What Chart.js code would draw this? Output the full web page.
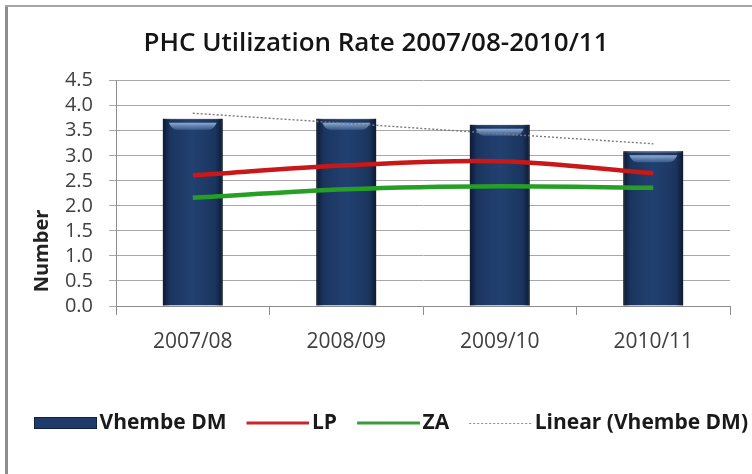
<!DOCTYPE html>
<html><head><meta charset="utf-8">
<style>html,body{margin:0;padding:0;background:#fff;} canvas{display:block;}</style>
<script src="https://cdn.jsdelivr.net/npm/chart.js@4.4.1/dist/chart.umd.min.js"></script>
</head><body>
<canvas id="c" width="752" height="474" style="width:752px;height:474px"></canvas>
<script>
const categories = ['2007/08', '2008/09', '2009/10', '2010/11'];
const vhembeDM = [3.74, 3.74, 3.62, 3.09];
const lp = [2.61, 2.81, 2.89, 2.65];
const za = [2.16, 2.33, 2.39, 2.36];
const linearVhembe = [3.85, 3.65, 3.44, 3.24];
const yTicks = [0, 0.5, 1, 1.5, 2, 2.5, 3, 3.5, 4, 4.5];
const seriesNames = ['Vhembe DM', 'LP', 'ZA', 'Linear (Vhembe DM)'];
const chartTitle = 'PHC Utilization Rate 2007/08-2010/11';
const yAxisTitle = 'Number';

const FONT = "'Open Sans', 'DejaVu Sans', sans-serif";
const NAVY = '#1e3b69';
const RED = '#c81818';
const GREEN = '#25a025';
const GRID = '#a8a8a8';

function makeSample(kind) {
  const c = document.createElement('canvas');
  c.width = 76; c.height = 14;
  const g = c.getContext('2d');
  const x0 = 13, x1 = 76, cy = 7;
  if (kind === 'bar') {
    g.fillStyle = '#0f2244';
    g.fillRect(x0, 1, x1 - x0, 12);
    g.fillStyle = NAVY;
    g.fillRect(x0 + 1, 2, x1 - x0 - 2, 10);
  } else if (kind === 'dash') {
    g.strokeStyle = '#8a8a8a'; g.lineWidth = 1;
    g.setLineDash([2, 2]);
    g.beginPath(); g.moveTo(x0, cy + 0.5); g.lineTo(x1, cy + 0.5); g.stroke();
  } else {
    g.strokeStyle = kind; g.lineWidth = 3;
    g.beginPath(); g.moveTo(x0, cy); g.lineTo(x1, cy); g.stroke();
  }
  return c;
}
const samples = [makeSample('bar'), makeSample('#c8262c'), makeSample('#3a9d3a'), makeSample('dash')];

const framePlugin = {
  id: 'frame',
  beforeDraw(chart) {
    const ctx = chart.ctx;
    ctx.save();
    ctx.fillStyle = '#fff';
    ctx.fillRect(0, 0, chart.width, chart.height);
    ctx.strokeStyle = '#8d8d8d';
    ctx.lineWidth = 3;
    ctx.beginPath(); ctx.moveTo(6.5, 5); ctx.lineTo(6.5, chart.height); ctx.stroke();
    ctx.strokeStyle = '#a5a5a5';
    ctx.lineWidth = 2;
    ctx.beginPath(); ctx.moveTo(5, 6); ctx.lineTo(chart.width, 6); ctx.stroke();
    ctx.restore();
  },
  afterLayout(chart) {
    const lg = chart.legend;
    if (lg) { lg.left += 14; lg.right += 14; }
  },
  afterDraw(chart) {
    const ctx = chart.ctx;
    ctx.save();
    ctx.translate(42, 251);
    ctx.rotate(-Math.PI / 2);
    ctx.font = "bold 20px " + FONT;
    ctx.fillStyle = '#222';
    ctx.textAlign = 'center';
    ctx.textBaseline = 'middle';
    ctx.fillText(yAxisTitle, 0, 0);
    ctx.restore();
  }
};

const glossPlugin = {
  id: 'gloss',
  afterDatasetDraw(chart, args) {
    if (args.index !== 0) return;
    const ctx = chart.ctx;
    ctx.save();
    args.meta.data.forEach(el => {
      const {x, y, base, width} = el.getProps(['x', 'y', 'base', 'width'], true);
      const l = x - width / 2, r = x + width / 2;
      const gr = ctx.createLinearGradient(l, 0, r, 0);
      gr.addColorStop(0, 'rgba(5,14,32,0.75)');
      gr.addColorStop(0.12, 'rgba(5,14,32,0.15)');
      gr.addColorStop(0.5, 'rgba(60,100,160,0.12)');
      gr.addColorStop(0.88, 'rgba(5,14,32,0.15)');
      gr.addColorStop(1, 'rgba(5,14,32,0.75)');
      ctx.fillStyle = gr;
      ctx.fillRect(l, y, width, base - y);
      const hl = ctx.createLinearGradient(0, y + 3, 0, y + 12);
      hl.addColorStop(0, 'rgba(175,205,240,0.9)');
      hl.addColorStop(1, 'rgba(100,140,195,0.3)');
      ctx.fillStyle = hl;
      ctx.beginPath();
      ctx.moveTo(l + 6, y + 4);
      ctx.lineTo(r - 6, y + 4);
      ctx.quadraticCurveTo(r - 9, y + 11, r - 14, y + 11);
      ctx.lineTo(l + 14, y + 11);
      ctx.quadraticCurveTo(l + 9, y + 11, l + 6, y + 4);
      ctx.fill();
    });
    ctx.restore();
  }
};

new Chart(document.getElementById('c'), {
  data: {
    labels: categories,
    datasets: [
      { type: 'bar', label: seriesNames[0], data: vhembeDM, backgroundColor: NAVY,
        borderColor: '#0c1d3a', borderWidth: 1, categoryPercentage: 1, barPercentage: 0.39, order: 4 },
      { type: 'line', label: seriesNames[1], data: lp, borderColor: RED, borderWidth: 4.5,
        tension: 0.35, pointRadius: 0, fill: false, order: 1 },
      { type: 'line', label: seriesNames[2], data: za, borderColor: GREEN, borderWidth: 4.5,
        tension: 0.3, pointRadius: 0, fill: false, order: 2 },
      { type: 'line', label: seriesNames[3], data: linearVhembe, borderColor: '#7a7a7a', borderWidth: 1.4,
        borderDash: [2, 2], tension: 0, pointRadius: 0, fill: false, order: 0 }
    ]
  },
  options: {
    responsive: false,
    devicePixelRatio: 1,
    animation: false,
    layout: { padding: { top: 0, left: 0, right: 0, bottom: 30.5 } },
    plugins: {
      tooltip: { enabled: false },
      title: {
        display: true, text: chartTitle, color: '#151515',
        font: { family: FONT, size: 26, weight: '600', lineHeight: 1.2 },
        padding: { top: 28.4, bottom: 21.1 }
      },
      legend: {
        position: 'bottom', align: 'start',
        labels: {
          usePointStyle: true, pointStyleWidth: 60, boxHeight: 12, padding: 15,
          color: '#1a1a1a', font: { family: FONT, size: 21, weight: 'bold' },
          sort: (a, b) => a.datasetIndex - b.datasetIndex,
          generateLabels(chart) {
            const items = Chart.defaults.plugins.legend.labels.generateLabels(chart);
            items.forEach(it => { it.pointStyle = samples[it.datasetIndex]; it.lineWidth = 0; });
            return items;
          }
        }
      }
    },
    scales: {
      x: {
        type: 'category',
        offset: true,
        grid: { offset: true, drawOnChartArea: false, drawTicks: true, tickLength: 9, color: '#8c8c8c' },
        border: { display: true, color: '#8c8c8c' },
        ticks: { color: '#404040', font: { family: FONT, size: 21 }, padding: 14, maxRotation: 0 },
        afterFit: s => { s.height = 91.5; }
      },
      y: {
        type: 'linear', position: 'left', min: 0, max: 4.5,
        afterBuildTicks: s => { s.ticks = yTicks.map(v => ({ value: v })); },
        grid: { color: GRID, tickLength: 7, drawTicks: true },
        border: { display: true, color: '#8c8c8c' },
        ticks: { color: '#404040', font: { family: FONT, size: 20, lineHeight: 1 }, padding: 16,
                 autoSkip: false, callback: v => Number(v).toFixed(1) },
        afterFit: s => { s.width = 116; }
      },
      yRight: {
        type: 'linear', position: 'right', display: true,
        grid: { display: false, drawTicks: false }, border: { display: false },
        ticks: { display: false },
        afterFit: s => { s.width = 22; }
      }
    }
  },
  plugins: [framePlugin, glossPlugin]
});
</script>
</body></html>
